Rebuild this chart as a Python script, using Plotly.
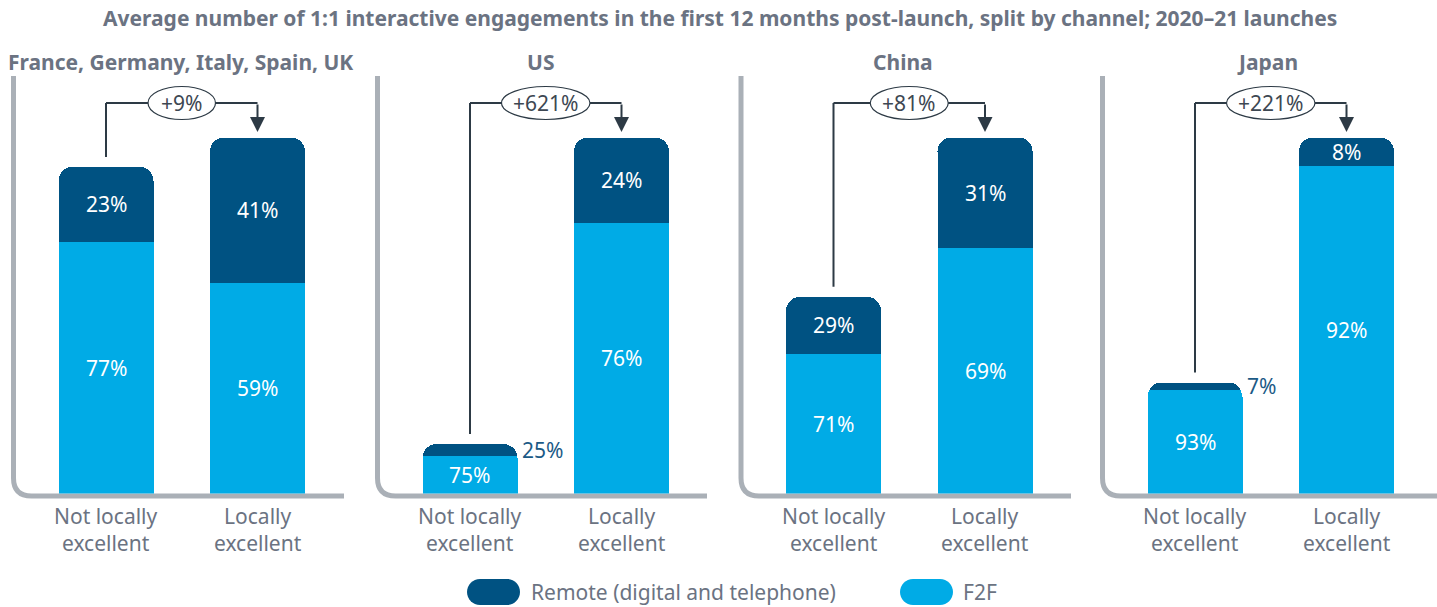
import plotly.graph_objects as go

# ---------------------------------------------------------------- data
title_text = ("Average number of 1:1 interactive engagements in the first 12 months "
              "post-launch, split by channel; 2020\u201321 launches")
regions = ["France, Germany, Italy, Spain, UK", "US", "China", "Japan"]
# uplift of locally excellent launches over not locally excellent ones (%)
uplift_pct = [9, 621, 81, 221]
# channel split (%) for not locally excellent / locally excellent launches
remote_not_le = [23, 25, 29, 7]
f2f_not_le = [77, 75, 71, 93]
remote_le = [41, 24, 31, 8]
f2f_le = [59, 76, 69, 92]
category_lines = [["Not locally", "excellent"], ["Locally", "excellent"]]
series_names = ["Remote (digital and telephone)", "F2F"]

# ---------------------------------------------------------------- style
W, H = 1437, 607
FONT = "Noto Sans"
FS = 21
DARK = "#005282"
LIGHT = "#00abe6"
GREY_TEXT = "#6b7382"
AXIS_GREY = "#aab0b7"
INK = "#2d3a45"

BASE_PX = 493.5          # bar baseline (pixels from top)
TOP_PX = 40.0            # top of plotting band
PX_PER_UNIT = 3.56       # vertical pixels per index point (locally excellent = 100)
PANEL_LEFT = [13.5, 377.5, 741.0, 1102.5]
PANEL_RIGHT = [344.0, 707.0, 1071.0, 1437.0]
PANEL_W = 342.0
CAT_PX = 151.5           # distance between the two bars
FIRST_OFF = 92.5         # left axis line -> first bar centre
BAR_W = 95.0 / CAT_PX
BRACKET_PX = 103.0


def px(x):
    return x / W


def py(y):
    return 1 - y / H


def to_units(pixels):
    return pixels / PX_PER_UNIT


y_top_units = to_units(BASE_PX - TOP_PX)
bracket_y = to_units(BASE_PX - BRACKET_PX)

fig = go.Figure()
layout_axes = {}
shapes = []
annotations = []

for i, region in enumerate(regions):
    n = "" if i == 0 else str(i + 1)
    xref, yref = "x" + n, "y" + n

    left = PANEL_LEFT[i]
    right = min(left + PANEL_W, W)
    layout_axes["xaxis" + n] = dict(
        domain=[px(left), px(right)],
        range=[-FIRST_OFF / CAT_PX, (right - left - FIRST_OFF) / CAT_PX],
        visible=False, fixedrange=True, anchor=yref,
    )
    layout_axes["yaxis" + n] = dict(
        domain=[py(BASE_PX), py(TOP_PX)], range=[0, y_top_units],
        visible=False, fixedrange=True, anchor=xref,
    )

    # bar heights: locally excellent indexed to 100
    totals = [100.0 / (1 + uplift_pct[i] / 100.0), 100.0]
    f2f = [f2f_not_le[i], f2f_le[i]]
    remote = [remote_not_le[i], remote_le[i]]
    f2f_vals = [t * s / 100.0 for t, s in zip(totals, f2f)]
    remote_vals = [t * s / 100.0 for t, s in zip(totals, remote)]

    fig.add_trace(go.Bar(x=[0, 1], y=f2f_vals, width=BAR_W, name=series_names[1],
                         marker=dict(color=LIGHT, line=dict(width=0)),
                         xaxis=xref, yaxis=yref, showlegend=False, hoverinfo="skip"))
    fig.add_trace(go.Bar(x=[0, 1], y=remote_vals, width=BAR_W, name=series_names[0],
                         marker=dict(color=DARK, line=dict(width=0)),
                         xaxis=xref, yaxis=yref, showlegend=False, hoverinfo="skip"))

    # segment labels
    for c in range(2):
        segs = [(0.0, f2f_vals[c], f2f[c]), (f2f_vals[c], remote_vals[c], remote[c])]
        for base, h, share in segs:
            if h * PX_PER_UNIT < 20:
                annotations.append(dict(
                    x=c + BAR_W / 2, y=base + h / 2, xref=xref, yref=yref,
                    text=f"{share}%", showarrow=False, xanchor="left", xshift=2,
                    font=dict(family=FONT, size=FS, color="#1b5a86")))
            else:
                annotations.append(dict(
                    x=c, y=base + h / 2, xref=xref, yref=yref,
                    text=f"{share}%", showarrow=False, xanchor="center",
                    font=dict(family=FONT, size=FS, color="white")))

    # category labels under the bars
    for c, lines in enumerate(category_lines):
        annotations.append(dict(
            x=c, y=py(529.5), xref=xref, yref="paper", text="<br>".join(lines),
            showarrow=False, xanchor="center", yanchor="middle", align="center",
            font=dict(family=FONT, size=FS, color=GREY_TEXT)))

    # panel heading
    heading_x = [180, 540, 903, 1267][i]
    annotations.append(dict(
        x=px(heading_x), y=py(62), xref="paper", yref="paper",
        text=f"<b>{region}</b>", showarrow=False,
        xanchor="center", yanchor="middle",
        font=dict(family=FONT, size=FS, color=GREY_TEXT)))

    # L-shaped frame with rounded corner
    r = 18
    base = 496
    shapes.append(dict(
        type="path", xref="paper", yref="paper", layer="below",
        path=(f"M {px(left)},{py(76)} L {px(left)},{py(base - r)} "
              f"Q {px(left)},{py(base)} {px(left + r)},{py(base)} "
              f"L {px(PANEL_RIGHT[i])},{py(base)}"),
        line=dict(color=AXIS_GREY, width=5)))

    # uplift bracket
    gap = to_units(10)
    shapes.append(dict(type="line", xref=xref, yref=yref,
                       x0=0, x1=0, y0=totals[0] + gap, y1=bracket_y,
                       line=dict(color=INK, width=2)))
    shapes.append(dict(type="line", xref=xref, yref=yref,
                       x0=0, x1=1, y0=bracket_y, y1=bracket_y,
                       line=dict(color=INK, width=2)))
    annotations.append(dict(
        x=1, y=totals[1] + to_units(5.5), ax=1, ay=bracket_y,
        xref=xref, yref=yref, axref=xref, ayref=yref, text="",
        showarrow=True, arrowhead=2, arrowsize=1.5, arrowwidth=2, arrowcolor=INK))
    label = f"+{uplift_pct[i]}%"
    ell_w = (36 + 10.5 * len(label)) / CAT_PX
    ell_h = to_units(33)
    shapes.append(dict(type="circle", xref=xref, yref=yref,
                       x0=0.5 - ell_w / 2, x1=0.5 + ell_w / 2,
                       y0=bracket_y - ell_h / 2, y1=bracket_y + ell_h / 2,
                       fillcolor="white", line=dict(color=INK, width=1.2)))
    annotations.append(dict(
        x=0.5, y=bracket_y, xref=xref, yref=yref, text=label, showarrow=False,
        xanchor="center", font=dict(family=FONT, size=FS, color="#3d4752")))


# chart title
annotations.append(dict(
    x=px(720), y=py(18), xref="paper", yref="paper", text=f"<b>{title_text}</b>",
    showarrow=False, xanchor="center", yanchor="middle",
    font=dict(family=FONT, size=FS, color=GREY_TEXT)))


# legend built from pill swatches
def pill(x0, x1, y0, y1):
    rr = (y1 - y0) / 2
    k = 0.5523 * rr
    yc = (y0 + y1) / 2
    pts = [
        ("M", [(x0 + rr, y0)]),
        ("L", [(x1 - rr, y0)]),
        ("C", [(x1 - rr + k, y0), (x1, yc - k), (x1, yc)]),
        ("C", [(x1, yc + k), (x1 - rr + k, y1), (x1 - rr, y1)]),
        ("L", [(x0 + rr, y1)]),
        ("C", [(x0 + rr - k, y1), (x0, yc + k), (x0, yc)]),
        ("C", [(x0, yc - k), (x0 + rr - k, y0), (x0 + rr, y0)]),
    ]
    out = []
    for cmd, ps in pts:
        out.append(cmd + " " + " ".join(f"{px(a)},{py(b)}" for a, b in ps))
    return " ".join(out) + " Z"


legend_items = [(series_names[0], DARK, 467, 529), (series_names[1], LIGHT, 900, 961)]
for name, color, sx, tx in legend_items:
    shapes.append(dict(type="path", xref="paper", yref="paper",
                       path=pill(sx, sx + 53, 579, 605),
                       fillcolor=color, line=dict(width=0)))
    annotations.append(dict(
        x=px(tx), y=py(592), xref="paper", yref="paper", text=name,
        showarrow=False, xanchor="left", yanchor="middle",
        font=dict(family=FONT, size=FS, color=GREY_TEXT)))

fig.update_layout(
    width=W, height=H, margin=dict(l=0, r=0, t=0, b=0),
    paper_bgcolor="white", plot_bgcolor="white",
    barmode="stack", barcornerradius=14,
    showlegend=False, shapes=shapes, annotations=annotations,
    font=dict(family=FONT),
    **layout_axes,
)

fig.write_html("out.html", config={"displayModeBar": False})
